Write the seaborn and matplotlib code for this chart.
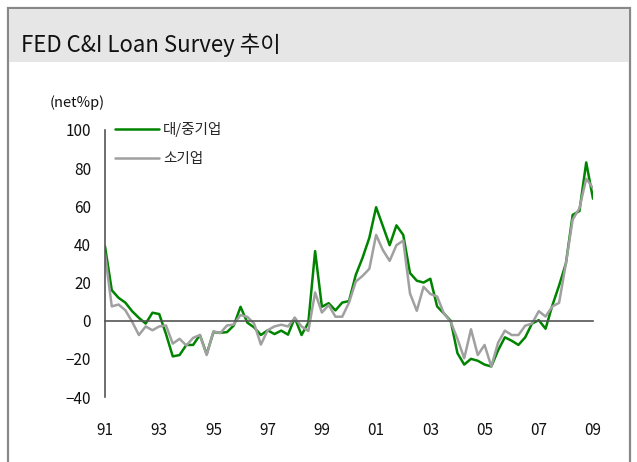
import numpy as np
import pandas as pd
import matplotlib
matplotlib.use("Agg")
import matplotlib.pyplot as plt
from matplotlib.patches import Rectangle
import seaborn as sns

# ---- data (quarterly, 1991Q1 .. 2009Q1), net % of banks tightening ----
quarters = [f"{y}Q{q}" for y in range(1991, 2010) for q in range(1, 5)][:73]
large_mid = [39, 16, 12, 9.5, 5, 1.5, -1.5, 4.2, 3.5, -7,
             -18.7, -18, -12.7, -12.7, -7.5, -17.5, -6, -6.3, -6, -2.5,
             7.3, -1, -3.5, -7.5, -5, -7, -5.2, -7.3, 1.5, -7.5,
             -1, 36.5, 7.3, 9.2, 5.4, 9.5, 10.3, 24, 33, 43.5,
             59.5, 49.6, 39.6, 50, 45, 25, 21, 20, 22, 7.5,
             3.8, 0, -17, -23, -20, -21, -23, -24, -15.5, -8.7,
             -10.5, -12.7, -8.7, -1.5, 0.3, -4.2, 8, 18.5, 30, 55.5,
             57.5, 83, 64]
small = [35, 7.5, 8.5, 5.5, -0.5, -7.5, -3, -5, -3, -2.5,
         -12, -9.5, -13, -9, -7.5, -18, -5.5, -6.5, -2.5, -2,
         3, 2, -1.5, -12.5, -5, -3, -2.1, -3, 1.5, -3,
         -5.4, 14.8, 4.3, 8.2, 2.1, 2.1, 9.5, 20.5, 23.5, 27.2,
         45, 37, 31.4, 39.6, 42, 14.3, 5.2, 17.8, 14, 12.7,
         3.8, -0.5, -9.5, -19.7, -4.5, -18, -12.7, -24, -11.5, -5.2,
         -7.5, -7.5, -2.6, -1.5, 5, 2.2, 7.5, 9.4, 30, 53,
         59, 74.5, 69.5]
series_names = ["대/중기업", "소기업"]
x_ticks = [1991, 1993, 1995, 1997, 1999, 2001, 2003, 2005, 2007, 2009]
x_labels = ["91", "93", "95", "97", "99", "01", "03", "05", "07", "09"]
y_ticks = [-40, -20, 0, 20, 40, 60, 80, 100]

t = pd.PeriodIndex(quarters, freq="Q")
xnum = t.year + (t.quarter - 1) / 4.0
df = pd.DataFrame({
    "x": np.concatenate([xnum, xnum]),
    "value": large_mid + small,
    "series": [series_names[0]] * len(large_mid) + [series_names[1]] * len(small),
})

sns.set_style("white")
plt.rcParams["font.family"] = ["Noto Sans CJK KR", "DejaVu Sans"]
plt.rcParams["axes.unicode_minus"] = True

fig = plt.figure(figsize=(6.37, 4.62), dpi=100)

# frame (open at the bottom, cut by the image edge) and title band
fig.patches.append(Rectangle((8 / 637, -0.05), 622 / 637, 1.05 - 8 / 462, transform=fig.transFigure,
                             facecolor="none", edgecolor="#888888", linewidth=1.6, zorder=0))
fig.patches.append(Rectangle((9 / 637, 1 - 62 / 462), 620 / 637, 53 / 462, transform=fig.transFigure,
                             facecolor="#e6e6e6", edgecolor="none", zorder=0))
fig.text(21 / 637, 1 - 45 / 462, "FED C&I Loan Survey 추이", fontsize=16,
         ha="left", va="center", color="#111111", fontweight="medium")

ax = fig.add_axes([105 / 637, 1 - 397 / 462, 488 / 637, 267 / 462])
sns.lineplot(data=df, x="x", y="value", hue="series",
             palette={series_names[0]: "#008400", series_names[1]: "#a0a0a0"},
             hue_order=series_names, linewidth=1.8, ax=ax, legend=True)

ax.set_xlim(1991, 2009)
ax.set_ylim(-40, 100)
ax.set_xlabel("")
ax.set_ylabel("")
ax.set_xticks(x_ticks)
ax.set_xticklabels(x_labels)
ax.set_yticks(y_ticks)
ax.set_yticklabels([f"{v}".replace("-", "\u2212") for v in y_ticks])

for s in ["top", "right"]:
    ax.spines[s].set_visible(False)
ax.spines["bottom"].set_position(("data", 0))
ax.spines["bottom"].set_color("#555555")
ax.spines["left"].set_color("#555555")
ax.spines["bottom"].set_linewidth(1.2)
ax.spines["left"].set_linewidth(1.2)
ax.tick_params(axis="x", direction="in", length=5, width=1, color="#333333",
               labelsize=11, pad=73, labelcolor="#111111")
ax.tick_params(axis="y", direction="in", length=5, width=1, color="#333333",
               labelsize=11, pad=10, labelcolor="#111111")

fig.text(50 / 637, 1 - 103 / 462, "(net%p)", fontsize=10.5, ha="left", va="center",
         color="#111111")

leg = ax.legend(loc="upper left", bbox_to_anchor=(115 / 637, 1 - 122 / 462),
                bbox_transform=fig.transFigure, frameon=False, fontsize=10.5,
                handlelength=3.0, handletextpad=0.3, labelspacing=1.05,
                borderpad=0, borderaxespad=0)
for line in leg.get_lines():
    line.set_linewidth(1.8)

fig.savefig("out.png", dpi=100)
